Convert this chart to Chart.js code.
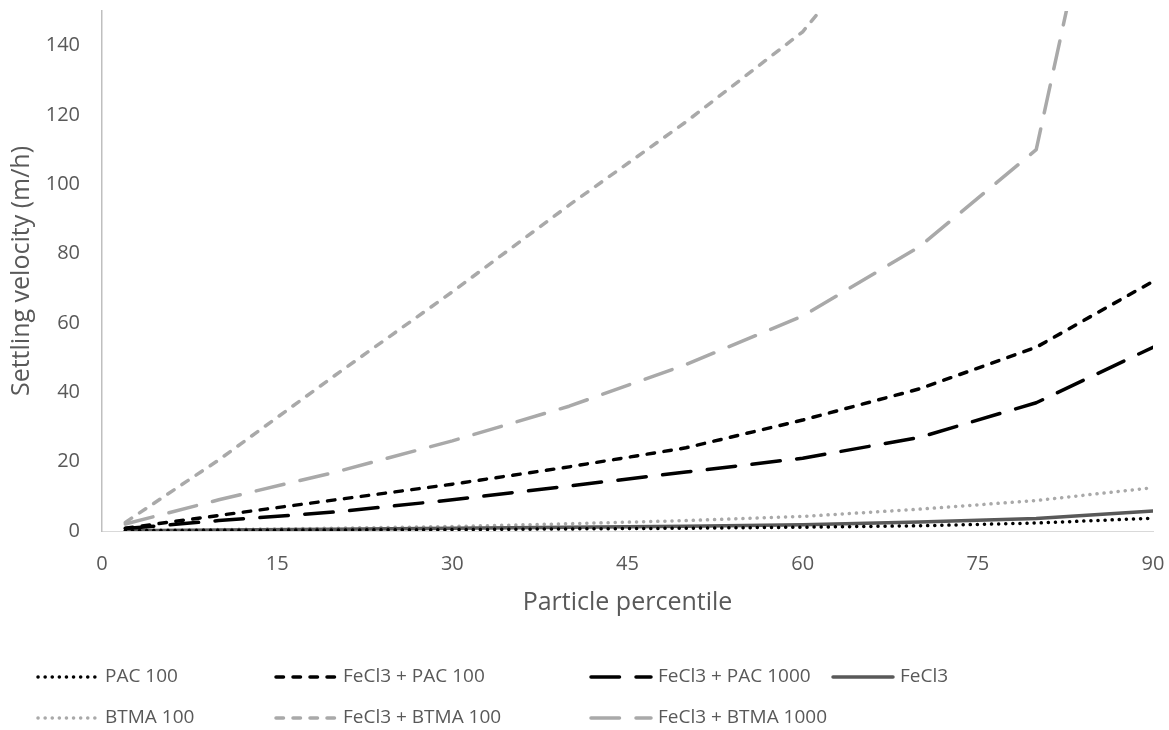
<!DOCTYPE html>
<html>
<head>
<meta charset="utf-8">
<script src="https://cdn.jsdelivr.net/npm/chart.js@4.4.0/dist/chart.umd.min.js"></script>
<style>
  html, body { margin: 0; padding: 0; background: #fff; }
</style>
</head>
<body>
<canvas id="chart" width="1169" height="730"></canvas>
<script>
'use strict';

// particle percentiles (x) and settling velocities in m/h (y)
const percentiles = [2, 10, 20, 30, 40, 50, 60, 70, 80, 90];

const pac100 = [0.1, 0.2, 0.3, 0.4, 0.6, 0.8, 1.1, 1.5, 2.3, 3.7];
const fecl3Pac100 = [0.8, 4.5, 9, 13.5, 18.5, 24, 32, 41, 53, 72];
const fecl3Pac1000 = [0.7, 3, 5.5, 9, 13, 17, 21, 27, 37, 53];
const fecl3 = [0.1, 0.3, 0.5, 0.8, 1.1, 1.4, 1.8, 2.6, 3.6, 5.8];
const btma100 = [0.2, 0.4, 0.8, 1.3, 2.1, 3.0, 4.2, 6.3, 8.8, 12.5];
const fecl3Btma100 = [2.5, 20.5, 45, 69, 94, 118, 144, 185, 240, 320];
const fecl3Btma1000 = [2, 9, 17, 26, 36, 48, 62, 82, 110, 265];

const xTicks = [0, 15, 30, 45, 60, 75, 90];
const yTicks = [0, 20, 40, 60, 80, 100, 120, 140];

const FONT = '"Open Sans", sans-serif';
const TEXT = '#595959';
const BLACK = '#000000';
const LIGHT = '#A9A9A9';
const DARK = '#595959';

const DOT = [0.1, 7];
const DASH = [7.5, 9.5];
const LONG = [28.5, 16.5];

function points(ys) {
  return percentiles.map((x, i) => ({ x: x, y: ys[i] }));
}

function series(label, ys, color, dash, width) {
  return {
    label: label,
    data: points(ys),
    borderColor: color,
    backgroundColor: color,
    borderWidth: width,
    borderDash: dash,
    borderCapStyle: 'round',
    borderJoinStyle: 'round',
    pointRadius: 0,
    tension: 0,
    fill: false
  };
}

// legend drawn like the excel one: fixed grid, 2 rows
const legendSpots = [[38, 677], [276, 677], [591, 677], [833, 677], [38, 718], [276, 718], [591, 718]];

const excelLegend = {
  id: 'excelLegend',
  afterDraw(chart) {
    const ctx = chart.ctx;
    chart.data.datasets.forEach((ds, i) => {
      const x = legendSpots[i][0];
      const y = legendSpots[i][1];
      ctx.save();
      ctx.strokeStyle = ds.borderColor;
      ctx.lineWidth = ds.borderWidth;
      ctx.lineCap = 'round';
      ctx.setLineDash(ds.borderDash);
      ctx.beginPath();
      ctx.moveTo(x, y);
      ctx.lineTo(x + 60, y);
      ctx.stroke();
      ctx.setLineDash([]);
      ctx.fillStyle = TEXT;
      ctx.font = '19px ' + FONT;
      ctx.textBaseline = 'middle';
      ctx.fillText(ds.label, x + 67, y);
      ctx.restore();
    });
  }
};

Chart.defaults.font.family = FONT;
Chart.defaults.color = TEXT;

const ctx = document.getElementById('chart').getContext('2d');

new Chart(ctx, {
  type: 'line',
  data: {
    datasets: [
      series('PAC 100', pac100, BLACK, DOT, 3.5),
      series('FeCl3 + PAC 100', fecl3Pac100, BLACK, DASH, 3.5),
      series('FeCl3 + PAC 1000', fecl3Pac1000, BLACK, LONG, 3.5),
      series('FeCl3', fecl3, DARK, [], 3.5),
      series('BTMA 100', btma100, LIGHT, DOT, 3.5),
      series('FeCl3 + BTMA 100', fecl3Btma100, LIGHT, DASH, 3.5),
      series('FeCl3 + BTMA 1000', fecl3Btma1000, LIGHT, LONG, 3.5)
    ]
  },
  options: {
    responsive: false,
    animation: false,
    layout: { padding: { top: 11, right: 16, bottom: 109, left: 0 } },
    plugins: {
      legend: { display: false },
      tooltip: { enabled: false }
    },
    scales: {
      x: {
        type: 'linear',
        min: 0,
        max: 90,
        afterBuildTicks: s => { s.ticks = xTicks.map(v => ({ value: v })); },
        afterFit: s => {
          s.height = 90;
          s.paddingLeft = 0;
          s.paddingRight = 0;
        },
        grid: { display: false, drawTicks: false },
        border: { display: true, color: '#D9D9D9', width: 1 },
        ticks: { color: TEXT, font: { size: 20 }, padding: 21, maxRotation: 0 },
        title: {
          display: true,
          text: 'Particle percentile',
          color: TEXT,
          font: { size: 25 },
          padding: { top: 0, bottom: 3 }
        }
      },
      y: {
        type: 'linear',
        min: 0,
        max: 150,
        afterBuildTicks: s => { s.ticks = yTicks.map(v => ({ value: v })); },
        afterFit: s => {
          s.width = 102;
          s.paddingTop = 0;
          s.paddingBottom = 0;
        },
        grid: { display: false, drawTicks: false },
        border: { display: true, color: '#BFBFBF', width: 1.5 },
        ticks: { color: TEXT, font: { size: 20 }, padding: 22 },
        title: {
          display: true,
          text: 'Settling velocity (m/h)',
          color: TEXT,
          font: { size: 25 },
          padding: { top: 7, bottom: 0 }
        }
      }
    }
  },
  plugins: [excelLegend]
});
</script>
</body>
</html>
